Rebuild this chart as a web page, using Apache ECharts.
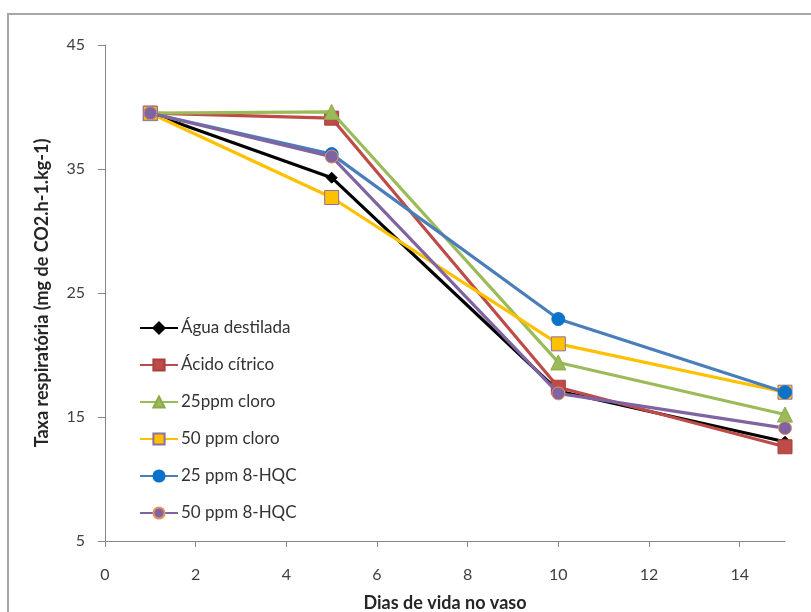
<!DOCTYPE html>
<html>
<head>
<meta charset="utf-8">
<script src="https://cdn.jsdelivr.net/npm/echarts@6/dist/echarts.min.js"></script>
<style>
  html, body { margin: 0; padding: 0; background: #fff; }
  #chart { width: 811px; height: 612px; }
</style>
</head>
<body>
<div id="chart"></div>
<script>
// Dias de vida no vaso (x) and respiration rate per treatment
const days = [1, 5, 10, 15];
const xTicks = [0, 2, 4, 6, 8, 10, 12, 14];

const aguaDestilada = [39.5, 34.3, 17.1, 13.0];
const acidoCitrico  = [39.5, 39.1, 17.4, 12.6];
const cloro25       = [39.5, 39.6, 19.4, 15.2];
const cloro50       = [39.5, 32.7, 20.9, 17.0];
const hqc25         = [39.5, 36.2, 22.9, 17.0];
const hqc50         = [39.5, 36.0, 16.9, 14.1];

const seriesNames = ['Água destilada', 'Ácido cítrico', '25ppm cloro', '50 ppm cloro', '25 ppm 8-HQC', '50 ppm 8-HQC'];
const seriesData  = [aguaDestilada, acidoCitrico, cloro25, cloro50, hqc25, hqc50];

const styles = [
  { line: '#000000', fill: '#000000', border: '#000000', symbol: 'diamond',  size: 11 },
  { line: '#BE4B48', fill: '#BE4B48', border: '#A5403D', symbol: 'rect',     size: 14 },
  { line: '#9BBB59', fill: '#9BBB59', border: '#8AAA4A', symbol: 'triangle', size: 15 },
  { line: '#FFC000', fill: '#FFC000', border: '#8E6FA0', symbol: 'rect',     size: 14 },
  { line: '#4A7EBB', fill: '#0A72C8', border: '#0A72C8', symbol: 'circle',   size: 13 },
  { line: '#8064A2', fill: '#8064A2', border: '#E8955A', symbol: 'circle',   size: 13 }
];

const FONT = 'Lato, "Open Sans", sans-serif';

const series = seriesNames.map((name, i) => ({
  name: name,
  type: 'line',
  data: days.map((d, j) => [d, seriesData[i][j]]),
  smooth: false,
  symbol: styles[i].symbol,
  symbolSize: styles[i].size,
  showAllSymbol: true,
  lineStyle: { color: styles[i].line, width: 3.2 },
  itemStyle: { color: styles[i].fill, borderColor: styles[i].border, borderWidth: 1 },
  emphasis: { disabled: true },
  z: 2 + i
}));

const chart = echarts.init(document.getElementById('chart'), null, { renderer: 'canvas' });
chart.setOption({
  animation: false,
  backgroundColor: '#ffffff',
  graphic: [{
    type: 'rect',
    shape: { x: 8, y: 14, width: 820, height: 620 },
    style: { fill: 'none', stroke: '#A6A6A6', lineWidth: 2 },
    silent: true,
    z: -1
  }],
  grid: { left: 105, top: 45, right: 26, bottom: 71, containLabel: false, outerBoundsMode: 'none' },
  legend: {
    orient: 'vertical',
    left: 134,
    top: 314,
    itemWidth: 38,
    itemHeight: 14,
    itemGap: 19,
    data: seriesNames,
    textStyle: { fontFamily: FONT, fontSize: 17, color: '#333333', lineHeight: 18, padding: [0, 0, 0, -2] }
  },
  xAxis: {
    type: 'value',
    min: 0,
    max: 15,
    interval: 2,
    name: 'Dias de vida no vaso',
    nameLocation: 'middle',
    nameGap: 53,
    nameTextStyle: { fontFamily: FONT, fontSize: 18, fontWeight: 'bold', color: '#262626' },
    axisLine: { lineStyle: { color: '#868686', width: 1 } },
    axisTick: { show: true, length: 6, customValues: xTicks, lineStyle: { color: '#868686' } },
    axisLabel: { customValues: xTicks, margin: 26, fontFamily: FONT, fontSize: 16, color: '#404040' },
    splitLine: { show: false }
  },
  yAxis: {
    type: 'value',
    min: 5,
    max: 45,
    interval: 10,
    name: 'Taxa respiratória (mg de CO2.h-1.kg-1)',
    nameLocation: 'middle',
    nameGap: 54,
    nameTextStyle: { fontFamily: FONT, fontSize: 18, fontWeight: 'bold', color: '#262626' },
    axisLine: { show: true, lineStyle: { color: '#868686', width: 1 } },
    axisTick: { show: true, length: 7, lineStyle: { color: '#868686' } },
    axisLabel: { margin: 20, fontFamily: FONT, fontSize: 16, color: '#404040' },
    splitLine: { show: false }
  },
  series: series
});
</script>
</body>
</html>
